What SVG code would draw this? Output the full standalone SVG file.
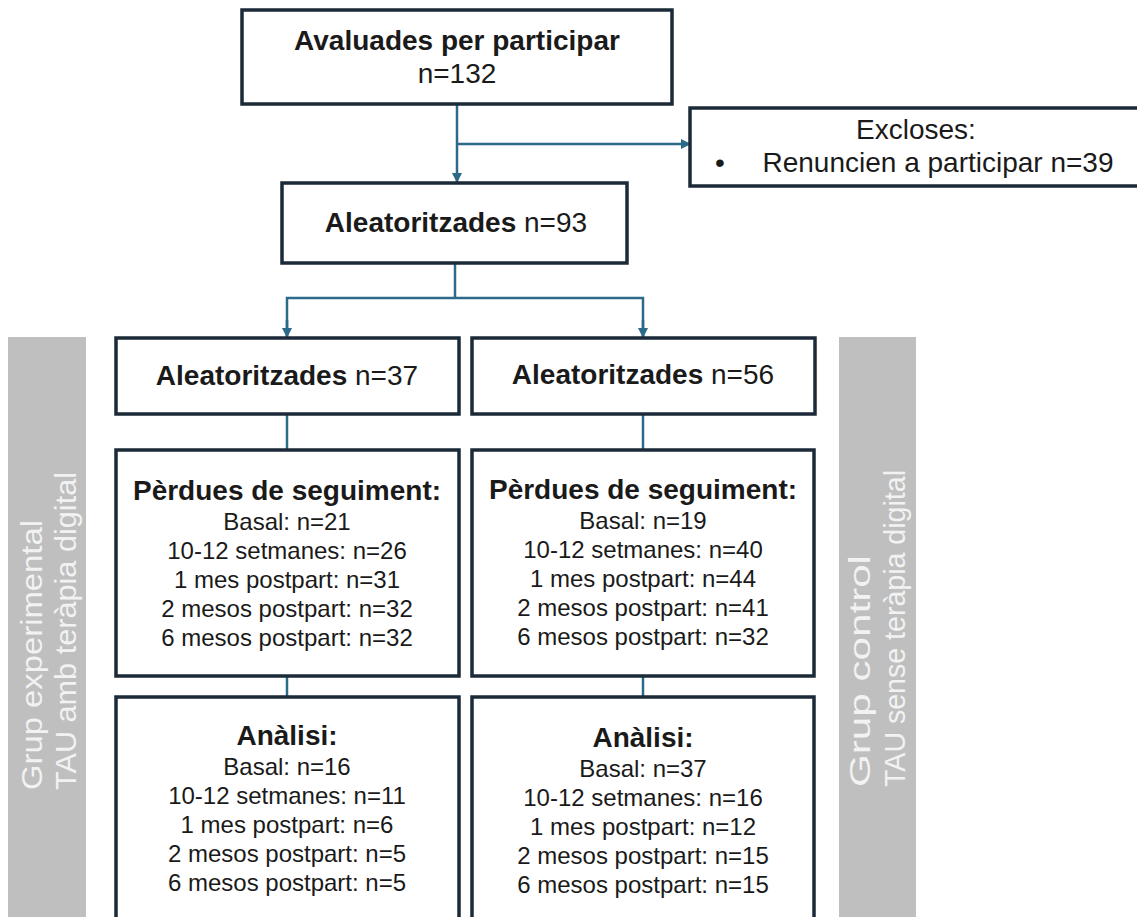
<svg xmlns="http://www.w3.org/2000/svg" width="1137" height="917" viewBox="0 0 1137 917">
<style>
.box{fill:#ffffff;stroke:#1b2a38;stroke-width:3.5}
.bar{fill:#bfbfbf}
.con{fill:none;stroke:#2c6a8a;stroke-width:2.5}
text{font-family:"Liberation Sans",Arial,sans-serif;fill:#1a1a1a}
.t{font-size:28px;text-anchor:middle}
.b{font-weight:bold}
.l{font-size:24px;text-anchor:middle}
.g{font-size:29px;fill:#f2f2f2}
</style>
<defs>
<marker id="ah" markerWidth="10" markerHeight="10" refX="9" refY="5" orient="auto" markerUnits="userSpaceOnUse">
<path d="M0,0 L10,5 L0,10 z" fill="#2c6a8a"/>
</marker>
</defs>
<rect width="1137" height="917" fill="#ffffff"/>

<g id="bar-left">
<rect class="bar" x="8" y="337" width="78" height="590"/>
<text class="g" transform="translate(42,790) rotate(-90)" textLength="270" lengthAdjust="spacingAndGlyphs">Grup experimental</text>
<text class="g" transform="translate(76,790) rotate(-90)" textLength="318" lengthAdjust="spacingAndGlyphs">TAU amb teràpia digital</text>
</g>
<g id="bar-right">
<rect class="bar" x="839" y="337" width="77" height="590"/>
<text class="g" transform="translate(870,787) rotate(-90)" textLength="232" lengthAdjust="spacingAndGlyphs">Grup control</text>
<text class="g" transform="translate(905,787) rotate(-90)" textLength="317" lengthAdjust="spacingAndGlyphs">TAU sense teràpia digital</text>
</g>

<g id="connectors">
<line class="con" x1="457" y1="104" x2="457" y2="182" marker-end="url(#ah)"/>
<line class="con" x1="457" y1="144" x2="690" y2="144" marker-end="url(#ah)"/>
<line class="con" x1="455" y1="263" x2="455" y2="298"/>
<polyline class="con" points="287,337 287,298 643,298 643,337"/>
<line class="con" x1="287" y1="320" x2="287" y2="337" marker-end="url(#ah)"/>
<line class="con" x1="643" y1="320" x2="643" y2="337" marker-end="url(#ah)"/>
<line class="con" x1="287" y1="414" x2="287" y2="450"/>
<line class="con" x1="643" y1="414" x2="643" y2="450"/>
<line class="con" x1="287" y1="676" x2="287" y2="697"/>
<line class="con" x1="643" y1="676" x2="643" y2="697"/>
</g>

<g id="node-avaluades">
<rect class="box" x="242" y="10" width="430" height="94"/>
<text class="t b" x="457" y="50">Avaluades per participar</text>
<text class="t" x="457" y="83">n=132</text>
</g>

<g id="node-excloses">
<rect class="box" x="690" y="108" width="460" height="78"/>
<text class="t" x="916" y="139">Excloses:</text>
<text class="t" x="720" y="172">•</text>
<text class="t" x="938" y="172">Renuncien a participar n=39</text>
</g>

<g id="node-aleat93">
<rect class="box" x="282" y="183" width="345" height="80"/>
<text class="t" x="456" y="232"><tspan class="b">Aleatoritzades</tspan> n=93</text>
</g>

<g id="node-aleat37">
<rect class="box" x="116" y="338" width="343" height="76"/>
<text class="t" x="287" y="385"><tspan class="b">Aleatoritzades</tspan> n=37</text>
</g>

<g id="node-aleat56">
<rect class="box" x="472" y="338" width="343" height="76"/>
<text class="t" x="643" y="384"><tspan class="b">Aleatoritzades</tspan> n=56</text>
</g>

<g id="node-perdues-exp">
<rect class="box" x="116" y="450" width="343" height="226"/>
<text class="t b" x="287" y="500">Pèrdues de seguiment:</text>
<text class="l" x="287" y="530">Basal: n=21</text>
<text class="l" x="287" y="559">10-12 setmanes: n=26</text>
<text class="l" x="287" y="588">1 mes postpart: n=31</text>
<text class="l" x="287" y="617">2 mesos postpart: n=32</text>
<text class="l" x="287" y="646">6 mesos postpart: n=32</text>
</g>

<g id="node-perdues-ctrl">
<rect class="box" x="472" y="450" width="342" height="226"/>
<text class="t b" x="643" y="499">Pèrdues de seguiment:</text>
<text class="l" x="643" y="529">Basal: n=19</text>
<text class="l" x="643" y="558">10-12 setmanes: n=40</text>
<text class="l" x="643" y="587">1 mes postpart: n=44</text>
<text class="l" x="643" y="616">2 mesos postpart: n=41</text>
<text class="l" x="643" y="645">6 mesos postpart: n=32</text>
</g>

<g id="node-analisi-exp">
<rect class="box" x="116" y="697" width="343" height="240"/>
<text class="t b" x="287" y="745">Anàlisi:</text>
<text class="l" x="287" y="775">Basal: n=16</text>
<text class="l" x="287" y="804">10-12 setmanes: n=11</text>
<text class="l" x="287" y="833">1 mes postpart: n=6</text>
<text class="l" x="287" y="862">2 mesos postpart: n=5</text>
<text class="l" x="287" y="891">6 mesos postpart: n=5</text>
</g>

<g id="node-analisi-ctrl">
<rect class="box" x="472" y="697" width="342" height="240"/>
<text class="t b" x="643" y="747">Anàlisi:</text>
<text class="l" x="643" y="777">Basal: n=37</text>
<text class="l" x="643" y="806">10-12 setmanes: n=16</text>
<text class="l" x="643" y="835">1 mes postpart: n=12</text>
<text class="l" x="643" y="864">2 mesos postpart: n=15</text>
<text class="l" x="643" y="893">6 mesos postpart: n=15</text>
</g>
</svg>
